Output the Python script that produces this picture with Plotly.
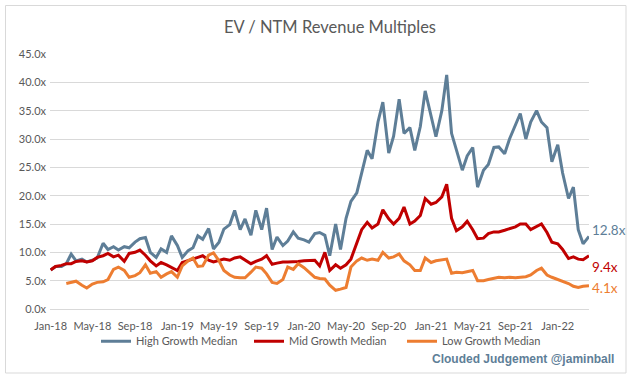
import pandas as pd
import plotly.graph_objects as go

# Semi-monthly observation dates (1st and 15th), Jan 2018 - Apr 2022
dates = pd.date_range("2018-01-01", periods=103, freq="SMS")

high_growth = [
    6.9, 7.5, 7.5, 8.0, 9.7, 8.5, 8.8, 8.3, 8.6, 9.0,
    11.6, 10.5, 11.0, 10.4, 11.0, 10.8, 11.8, 12.4, 12.6, 10.0,
    9.1, 10.6, 10.0, 12.9, 11.2, 9.1, 10.3, 10.8, 12.9, 12.3,
    14.2, 10.6, 11.8, 14.1, 14.9, 17.4, 14.0, 15.9, 13.0, 17.4,
    14.0, 17.8, 10.5, 12.7, 11.2, 12.0, 13.6, 12.5, 12.2, 11.8,
    13.3, 13.5, 13.0, 9.4, 15.0, 10.5, 16.0, 19.0, 20.5, 24.0,
    28.0, 26.5, 33.0, 36.5, 27.5, 30.5, 37.0, 31.0, 32.0, 28.0,
    32.2, 38.5, 34.0, 30.4, 35.0, 41.3, 31.0, 28.0, 24.5, 27.0,
    28.5, 21.5, 24.5, 25.5, 28.5, 28.6, 27.4, 30.0, 32.5, 34.5,
    30.0, 33.0, 35.0, 33.0, 32.0, 26.0, 29.0, 24.0, 19.5, 21.5,
    14.0, 11.5, 12.8,
]

mid_growth = [
    6.9, 7.5, 7.7, 8.0, 8.0, 8.4, 8.5, 8.3, 8.5, 9.1,
    9.4, 9.8, 9.2, 9.5, 8.4, 9.8, 10.0, 10.4, 9.5, 8.5,
    7.6, 8.2, 7.8, 7.3, 6.8, 8.2, 8.5, 8.8, 9.1, 9.4,
    8.6, 8.3, 8.6, 8.8, 8.6, 9.0, 9.2, 8.6, 8.0, 8.4,
    8.8, 9.4, 7.9, 8.1, 8.3, 8.3, 8.3, 8.4, 8.5, 8.6,
    8.6, 7.6, 10.0, 6.8, 7.8, 7.2, 7.8, 8.8, 11.5, 14.0,
    15.3, 14.3, 15.0, 17.5, 15.9, 15.0, 16.0, 18.0, 15.0, 15.5,
    16.5, 19.5, 18.5, 18.8, 19.8, 22.0, 16.0, 13.8, 14.5, 15.5,
    14.0, 12.4, 12.5, 13.3, 13.6, 13.6, 13.9, 14.2, 14.5, 15.0,
    15.0, 14.0, 14.6, 15.0, 13.5, 11.8, 11.5, 10.5, 8.9, 9.2,
    8.8, 8.7, 9.4,
]

low_growth = [
    None, None, None, 4.5, 4.7, 4.9, 4.2, 3.7, 4.4, 4.7,
    4.8, 5.2, 7.0, 7.4, 6.8, 5.6, 5.9, 6.4, 7.8, 6.3,
    6.6, 5.6, 6.2, 6.6, 5.6, 7.6, 8.5, 9.0, 7.5, 7.6,
    9.5, 9.9, 8.5, 6.8, 6.0, 5.6, 5.5, 5.5, 6.5, 7.4,
    7.2, 6.2, 4.7, 4.5, 5.2, 7.4, 7.0, 8.0, 7.3, 6.5,
    5.6, 5.4, 5.3, 4.2, 3.3, 3.5, 3.8, 7.4, 8.5, 9.0,
    8.6, 8.8, 8.6, 10.0, 9.0, 9.2, 9.7, 8.5, 7.8, 6.8,
    6.8, 9.0, 8.2, 8.5, 8.6, 8.8, 6.3, 6.5, 6.4, 6.6,
    6.8, 5.0, 5.0, 5.2, 5.4, 5.6, 5.5, 5.6, 5.5, 5.6,
    5.7, 6.0, 6.8, 7.2, 6.0, 5.6, 5.2, 4.8, 4.5, 4.0,
    3.8, 4.0, 4.1,
]

series_names = ["High Growth Median", "Mid Growth Median", "Low Growth Median"]
series_colors = ["#5E7E97", "#C00000", "#ED7D31"]
series_values = [high_growth, mid_growth, low_growth]
end_label_shift = [6, -11, -2]

FONT = "Lato, sans-serif"
GREY = "#595959"

fig = go.Figure()
for name, color, vals in zip(series_names, series_colors, series_values):
    fig.add_trace(go.Scatter(
        x=dates, y=vals, name=name, mode="lines",
        line=dict(color=color, width=3),
        connectgaps=False,
    ))

for color, vals, ys in zip(series_colors, series_values, end_label_shift):
    fig.add_annotation(
        x=dates[-1], y=vals[-1], xref="x", yref="y",
        text=f"{vals[-1]:.1f}x", showarrow=False,
        xanchor="left", yanchor="middle", xshift=1, yshift=ys,
        font=dict(family=FONT, size=13.5, color=color),
    )

fig.add_annotation(
    x=1.050, y=-0.196, xref="paper", yref="paper",
    text="<b>Clouded Judgement @jaminball</b>", showarrow=False,
    xanchor="right", yanchor="middle",
    font=dict(family="Liberation Sans, Arial, sans-serif", size=12, color="#5E7E97"),
)

fig.add_shape(
    type="rect", xref="paper", yref="paper",
    x0=(5.5 - 50) / 539, x1=(626 - 50) / 539,
    y0=(309 - 373) / 255, y1=(309 - 5.5) / 255,
    line=dict(color="#D9D9D9", width=1), fillcolor="rgba(0,0,0,0)", layer="below",
)

fig.update_layout(
    width=631, height=382,
    margin=dict(l=50, r=42, t=54, b=73),
    paper_bgcolor="white", plot_bgcolor="white",
    title=dict(text="EV / NTM Revenue Multiples", x=330 / 631, xref="container", xanchor="center",
               y=1 - 27 / 382, yref="container", yanchor="middle",
               font=dict(family=FONT, size=16.5, color=GREY)),
    font=dict(family=FONT, size=11, color=GREY),
    showlegend=True,
    legend=dict(orientation="h", xanchor="left", x=(96 - 50) / 539, yanchor="middle", y=-0.126,
                font=dict(family=FONT, size=11, color=GREY), entrywidth=108,
                itemwidth=30, bgcolor="rgba(0,0,0,0)"),
    xaxis=dict(type="date", range=["2017-12-30", "2022-04-01"], dtick="M4", tick0="2018-01-01",
               tickformat="%b-%y", showgrid=False, showline=False, zeroline=False,
               ticks="", tickangle=0, automargin=False, ticklabelstandoff=9,
               tickfont=dict(family=FONT, size=11, color=GREY)),
    yaxis=dict(range=[0, 45], dtick=5, tickformat=".1f", ticksuffix="x",
               showgrid=True, gridcolor="#D9D9D9", gridwidth=1, zeroline=True,
               zerolinecolor="#D9D9D9", zerolinewidth=1, showline=False, ticks="",
               automargin=False, ticklabelstandoff=3,
               tickfont=dict(family=FONT, size=11, color=GREY)),
)

fig.write_html("out.html", config={"displayModeBar": False},
               post_script="document.body.style.margin='0px';")
